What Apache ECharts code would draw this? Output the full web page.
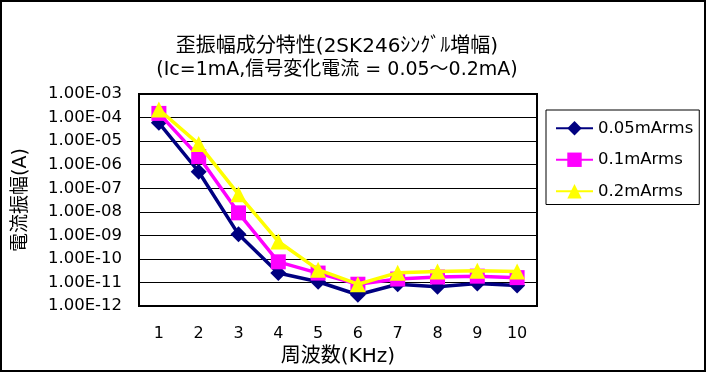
<!DOCTYPE html>
<html>
<head>
<meta charset="utf-8">
<script src="https://cdn.jsdelivr.net/npm/echarts@6/dist/echarts.min.js"></script>
<style>
html,body{margin:0;padding:0;background:#fff;}
#chart{width:707px;height:373px;}
</style>
</head>
<body>
<div id="chart"></div>
<script>
const titleLine1 = '歪振幅成分特性(2SK246ｼﾝｸﾞﾙ増幅)';
const titleLine2 = '(Ic=1mA,信号変化電流 = 0.05～0.2mA)';
const xAxisName = '周波数(KHz)';
const yAxisName = '電流振幅(A)';
const categories = ['1','2','3','4','5','6','7','8','9','10'];
const seriesNames = ['0.05mArms','0.1mArms','0.2mArms'];
const s005 = [6e-5, 5e-7, 1.1e-9, 2.5e-11, 1.07e-11, 3e-12, 8.4e-12, 6.5e-12, 9e-12, 7.5e-12];
const s01  = [1.5e-4, 2.2e-6, 9e-9, 7.5e-11, 2.5e-11, 8.4e-12, 1.4e-11, 1.7e-11, 1.85e-11, 1.6e-11];
const s02  = [2.2e-4, 7.5e-6, 5.5e-8, 5.5e-10, 3.5e-11, 8.4e-12, 2.6e-11, 2.9e-11, 3.1e-11, 2.9e-11];
const yMin = 1e-12, yMax = 1e-3;

const FONT = '"DejaVu Sans", "Noto Sans CJK JP", sans-serif';

function fmtE(v){
  const e = Math.round(Math.log10(v));
  return '1.00E' + (e < 0 ? '-' : '+') + String(Math.abs(e)).padStart(2,'0');
}

const chart = echarts.init(document.getElementById('chart'), null, {renderer:'canvas'});
const colors = ['#000080','#FF00FF','#FFFF00'];
const symbols = ['diamond','rect','triangle'];
const symSizes = [16, 15, 16];
const datas = [s005, s01, s02];

chart.setOption({
  backgroundColor: '#fff',
  animation: false,
  title: [
    {text: titleLine1, left: 337, top: 37, textAlign: 'center', padding: 0,
     textStyle:{fontFamily: FONT, fontSize: 20, fontWeight: 'normal', color:'#000'}},
    {text: titleLine2, left: 337, top: 61, textAlign: 'center', padding: 0,
     textStyle:{fontFamily: FONT, fontSize: 19, fontWeight: 'normal', color:'#000'}}
  ],
  legend: {
    orient: 'vertical',
    left: 546, top: 110,
    padding: [10, 6, 5, 9],
    borderColor: '#000', borderWidth: 1,
    itemWidth: 37, itemHeight: 18, itemGap: 15,
    textStyle: {fontFamily: FONT, fontSize: 16.5, color: '#000'},
    data: seriesNames
  },
  grid: {left: 139, right: 170, top: 94, bottom: 67, show: true, borderColor: '#000', borderWidth: 2, backgroundColor: '#fff'},
  xAxis: {
    type: 'category', data: categories, boundaryGap: true,
    name: xAxisName, nameLocation: 'middle', nameGap: 36,
    nameTextStyle: {fontFamily: FONT, fontSize: 20, color:'#000'},
    axisLine: {lineStyle: {color: '#000', width: 2}},
    axisTick: {inside: true, length: 5, lineStyle: {color:'#000', width: 1}},
    axisLabel: {fontFamily: FONT, fontSize: 16, color: '#000', margin: 20},
    splitLine: {show: false}
  },
  yAxis: {
    type: 'log', logBase: 10, min: yMin, max: yMax, splitNumber: 9,
    name: yAxisName, nameLocation: 'middle', nameGap: 108, nameRotate: 90,
    nameTextStyle: {fontFamily: FONT, fontSize: 19, color:'#000'},
    axisLine: {show: true, lineStyle: {color: '#000', width: 2}},
    axisTick: {show: false},
    axisLabel: {fontFamily: FONT, fontSize: 16.5, color: '#000', margin: 17, formatter: fmtE},
    splitLine: {show: true, lineStyle: {color: '#000', width: 1}}
  },
  series: seriesNames.map((n, i) => ({
    name: n, type: 'line', data: datas[i],
    symbol: symbols[i], symbolSize: symSizes[i],
    lineStyle: {color: colors[i], width: 3.5},
    itemStyle: {color: colors[i]},
    z: 2 + i
  })),
  graphic: [{
    type: 'rect', shape: {x: 1, y: 1, width: 704, height: 370},
    style: {fill: 'none', stroke: '#000', lineWidth: 2}, silent: true
  }]
});
</script>
</body>
</html>
